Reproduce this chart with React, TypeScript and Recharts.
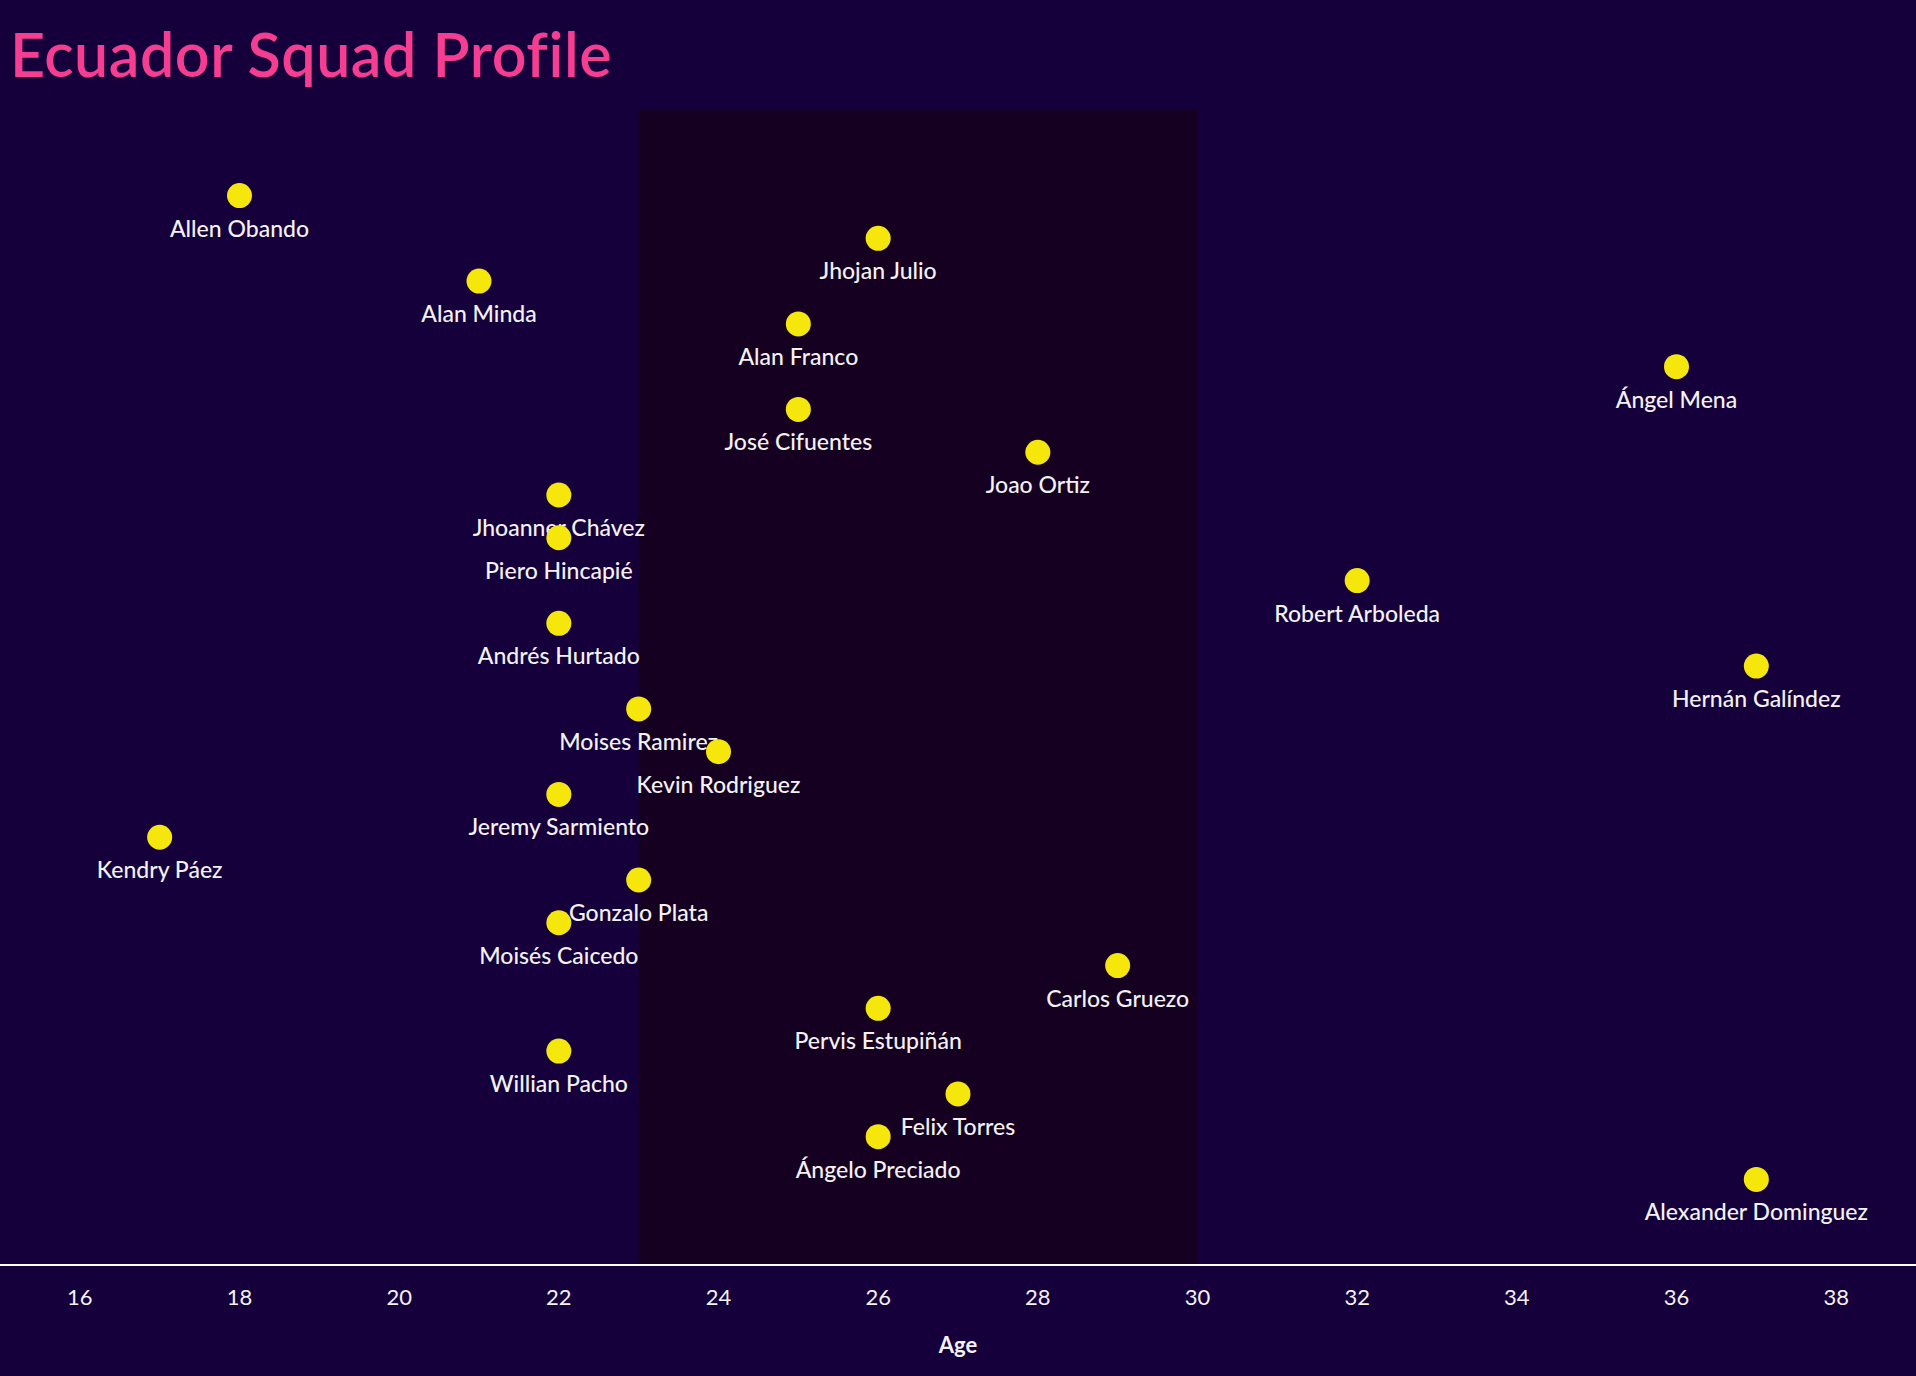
import React from 'react';
import { ScatterChart, Scatter, XAxis, YAxis, ReferenceArea } from 'recharts';

const players = [
  'Allen Obando', 'Jhojan Julio', 'Alan Minda', 'Alan Franco', 'Ángel Mena', 'José Cifuentes',
  'Joao Ortiz', 'Jhoanner Chávez', 'Piero Hincapié', 'Robert Arboleda', 'Andrés Hurtado',
  'Hernán Galíndez', 'Moises Ramirez', 'Kevin Rodriguez', 'Jeremy Sarmiento', 'Kendry Páez',
  'Gonzalo Plata', 'Moisés Caicedo', 'Carlos Gruezo', 'Pervis Estupiñán', 'Willian Pacho',
  'Felix Torres', 'Ángelo Preciado', 'Alexander Dominguez',
];
const ages = [18, 26, 21, 25, 36, 25, 28, 22, 22, 32, 22, 37, 23, 24, 22, 17, 23, 22, 29, 26, 22, 27, 26, 37];
const ageTicks = [16, 18, 20, 22, 24, 26, 28, 30, 32, 34, 36, 38];
const peakStart = 23;
const peakEnd = 30;

const data = players.map((name, i) => ({ name, age: ages[i], rank: i + 1 }));

const BG = '#16003b';
const PEAK = '#160021';
const DOT = '#f5e70c';
const TEXT = '#f2f2f2';
const FONT = 'Lato, "Open Sans", sans-serif';

const Dot = (props: any) => {
  const { cx, cy, payload } = props;
  return (
    <g>
      <circle cx={cx} cy={cy} r={12.5} fill={DOT} />
      <text x={cx} y={cy + 41} textAnchor="middle" fill={TEXT} fontSize={23} fontFamily={FONT} fontWeight={500}>
        {payload.name}
      </text>
    </g>
  );
};

const AgeLabel = (props: any) => {
  const vb = props.viewBox || {};
  return (
    <text x={vb.x + vb.width / 2} y={1353} textAnchor="middle" fill={TEXT} fontSize={22} fontWeight={700} fontFamily={FONT}>
      Age
    </text>
  );
};

export default function App() {
  return (
    <div style={{ position: 'absolute', left: 0, top: 0, width: 1916, height: 1376, background: BG, overflow: 'hidden' }}>
      <div style={{ position: 'absolute', left: 10, top: 18, color: '#f53d91', fontFamily: FONT, fontSize: 61, fontWeight: 600, lineHeight: '72px', letterSpacing: 0.5 }}>
        Ecuador Squad Profile
      </div>
      <ScatterChart width={1916} height={1376} margin={{ top: 110, right: 0, bottom: 0, left: 0 }}>
        <XAxis
          type="number"
          dataKey="age"
          domain={[15, 39]}
          ticks={ageTicks}
          height={111}
          axisLine={{ stroke: '#ffffff', strokeWidth: 2 }}
          tickLine={false}
          tickSize={0}
          tickMargin={24}
          tick={{ fill: TEXT, fontSize: 22, fontFamily: FONT }}
          label={<AgeLabel />}
        />
        <YAxis type="number" dataKey="rank" domain={[-1, 26]} reversed hide width={0} />
        <ReferenceArea x1={peakStart} x2={peakEnd} y1={-1} y2={26} fill={PEAK} fillOpacity={1} stroke="none" ifOverflow="visible" />
        <Scatter data={data} shape={<Dot />} isAnimationActive={false} />
      </ScatterChart>
    </div>
  );
}
